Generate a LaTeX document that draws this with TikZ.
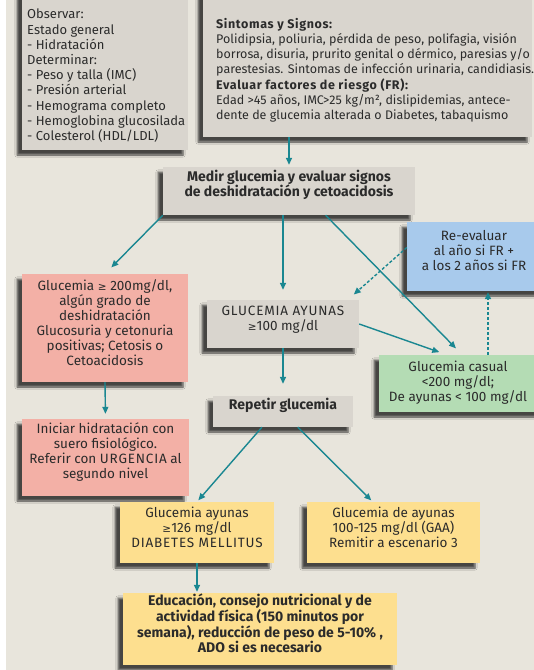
\documentclass[tikz,border=0pt]{standalone}
\usepackage{fontspec}
\setmainfont{Fira Sans}
\newfontfamily\dv{DejaVu Sans}
\usetikzlibrary{arrows.meta,shadows,shadows.blur,calc,fit}
\definecolor{bg}{HTML}{E8E5DC}
\definecolor{grayb}{HTML}{D9D5CE}
\definecolor{pinkb}{HTML}{F3B0A6}
\definecolor{blueb}{HTML}{A8CAEC}
\definecolor{greenb}{HTML}{B4DCB4}
\definecolor{yellowb}{HTML}{FDDF8F}
\definecolor{teal1}{HTML}{1A8791}
\definecolor{txt}{HTML}{2B2B2B}
\newcommand{\geqs}{{\dv\fontsize{10.5}{15}\selectfont ≥}}
\newcommand{\capsp}[1]{{\addfontfeatures{LetterSpace=6}#1}}
\newcommand{\headf}[1]{{\fontsize{12.5}{15}\selectfont\bfseries\addfontfeatures{LetterSpace=5}#1}}
\begin{document}
\begin{tikzpicture}[x=1pt,y=-1pt,
  every node/.style={text=txt, font=\fontsize{13.5}{15}\selectfont},
  shade/.style={blur shadow={shadow xshift=-5pt,shadow yshift=-5pt,shadow blur steps=5,shadow opacity=70}},
  boxbase/.style={inner sep=0pt, align=center, shade},
  gbox/.style={boxbase, fill=grayb},
  pbox/.style={boxbase, fill=pinkb},
  bbox/.style={boxbase, fill=blueb},
  grbox/.style={boxbase, fill=greenb},
  ybox/.style={boxbase, fill=yellowb},
  plain/.style={inner sep=0pt},
  boldtext/.style={font=\fontsize{14}{15}\selectfont\bfseries},
  link/.style={draw=teal1, line width=1.4pt, -{Triangle[length=7pt,width=6pt]}},
  dlink/.style={link, dash pattern=on 3pt off 2pt}
]
\useasboundingbox (0,0) rectangle (534,670);
\fill[white] (0,0) rectangle (534,670);
\fill[bg] (6,0) rectangle (534,670);

% top boxes
\node[gbox, fit={(22,-8) (188,150)}] (obs) {};
\node[plain, anchor=north west, align=left, font=\fontsize{13}{15.2}\selectfont] (obstxt) at (27,9)
  {Observar:\\Estado general\\- Hidratación\\Determinar:\\- Peso y talla (IMC)\\- Presión arterial\\- Hemograma completo\\- Hemoglobina glucosilada\\- Colesterol (HDL/LDL)};

\node[gbox, fit={(203,-8) (532,137)}] (sint) {};
\node[plain, anchor=north west, align=left, font=\fontsize{12.5}{15.2}\selectfont] (sinttxt) at (216,18)
  {\headf{Sintomas y Signos:}\\
   Polidipsia, poliuria, pérdida de peso, polifagia, visión\\
   borrosa, disuria, prurito genital o dérmico, paresias y/o\\
   parestesias. Sintomas de infección urinaria, candidiasis.\\
   \headf{Evaluar factores de riesgo (FR):}\\
   Edad >45 años, IMC>25 kg/m², dislipidemias, antece-\\
   dente de glucemia alterada o Diabetes, tabaquismo};

\node[gbox, fit={(163,167) (415,215)}, boldtext] (medir)
  {Medir glucemia y evaluar signos\\de deshidratación y cetoacidosis};

% middle
\node[pbox, fit={(22,274) (188,382)}] (pink1)
  {Glucemia \geqs\ 200mg/dl,\\algún grado de\\deshidratación\\Glucosuria y cetonuria\\positivas; Cetosis o\\Cetoacidosis};

\node[gbox, fit={(207,300) (359,348)}] (gayun) {\capsp{GLUCEMIA AYUNAS}\\\geqs100 mg/dl};

\node[bbox, fit={(407,222) (569,291)}] (blue) {};
\node[plain, align=center] (bluetxt) at (474,251) {Re-evaluar\\al año si FR +\\a los 2 años si FR};

\node[grbox, fit={(379,355) (560,412)}] (green) {};
\node[plain, align=center] (greentxt) at (458,383) {Glucemia casual\\<200 mg/dl;\\De ayunas < 100 mg/dl};

\node[gbox, fit={(213,396) (353,427)}, boldtext] (repetir) {Repetir glucemia};

\node[pbox, fit={(22,419) (189,496)}] (pink2)
  {Iniciar hidratación con\\suero fisiológico.\\Referir con \capsp{URGENCIA} al\\segundo nivel};

% lower
\node[ybox, fit={(120,502) (274,563)}] (yellow1) {Glucemia ayunas\\\geqs126 mg/dl\\\capsp{DIABETES MELLITUS}};
\node[ybox, fit={(307,502) (480,563)}] (yellow2) {Glucemia de ayunas\\100-125 mg/dl (GAA)\\Remitir a escenario 3};
\node[ybox, fit={(123,593) (397,665)}, boldtext] (bottom)
  {Educación, consejo nutricional y de\\actividad física (150 minutos por\\semana), reducción de peso de 5-10\% ,\\ADO si es necesario};

% connectors
\draw[link, shorten >=2pt] (sint.south -| medir.north) -- (medir.north);
\draw[link, shorten >=9pt] (medir.south west) -- (pink1.north);
\draw[link, shorten >=10pt] (medir.south -| gayun.north) -- (gayun.north);
\draw[link, shorten >=9pt] ($(medir.south)!0.29!(medir.south east)$) -- ($(green.north west)!0.92!(green.north)$);
\draw[link, shorten >=8pt] (gayun.east) -- ($(green.north west)!0.75!(green.north)$);
\draw[dlink, shorten >=8pt] ([yshift=9pt]blue.west) -- ($(gayun.north)!0.85!(gayun.north east)$);
\draw[dlink, shorten >=1pt] (green.north -| blue.south) -- (blue.south);
\draw[link, shorten >=12pt] (gayun.south) -- (repetir.north);
\draw[link, shorten >=5pt] (pink1.south) -- (pink2.north);
\draw[link, shorten >=2pt] ($(repetir.south west)!0.7!(repetir.south)$) -- (yellow1.north);
\draw[link, shorten >=2pt] ($(repetir.south)!0.21!(repetir.south east)$) -- ($(yellow2.north west)!0.76!(yellow2.north)$);
\draw[link, shorten >=1pt] (yellow1.south) -- (yellow1.south |- bottom.north);
\end{tikzpicture}
\end{document}
